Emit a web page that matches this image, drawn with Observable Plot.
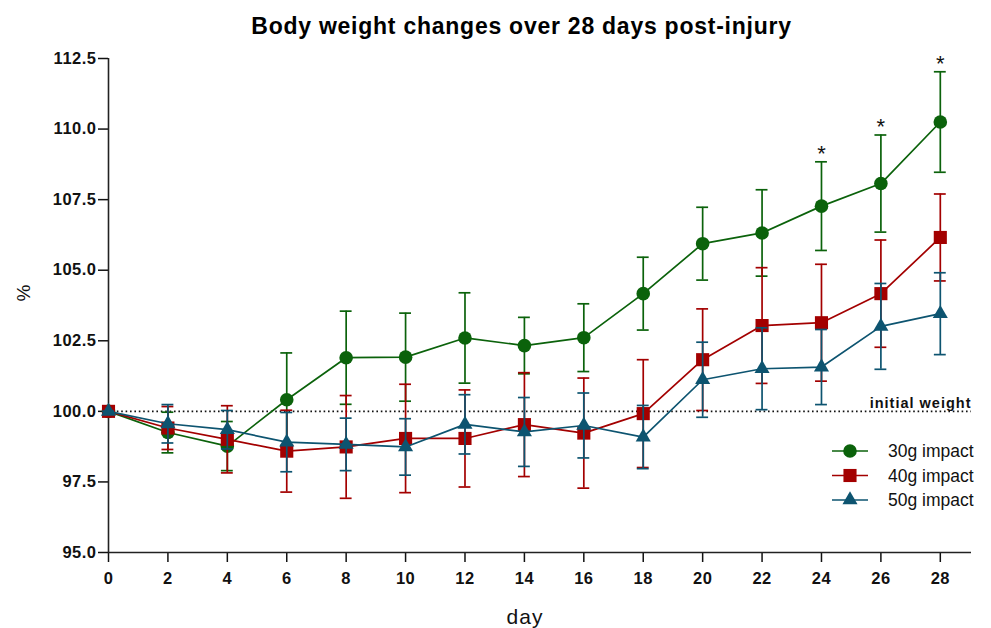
<!DOCTYPE html>
<html>
<head>
<meta charset="utf-8">
<script src="https://cdn.jsdelivr.net/npm/d3@7"></script>
<script src="https://cdn.jsdelivr.net/npm/@observablehq/plot@0.6"></script>
<style>
  html, body { margin: 0; padding: 0; background: #fff; }
  #wrap { position: relative; width: 991px; height: 628px; font-family: "Liberation Sans", Arial, sans-serif; }
  #title { position: absolute; left: 0; top: 0; width: 991px; height: 48px; text-align: center;
           font-size: 23px; font-weight: bold; letter-spacing: 0.75px; line-height: 48px; color: #000;
           padding-left: 52px; box-sizing: border-box; padding-top: 2px; }
  #chart { position: absolute; left: 0; top: 48px; }
  #legend { position: absolute; left: 826px; top: 438px; }
</style>
</head>
<body>
<div id="wrap">
  <div id="title">Body weight changes over 28 days post-injury</div>
  <div id="chart"></div>
  <div id="legend"></div>
</div>
<script>
// ---- data ----
const days = [0, 2, 4, 6, 8, 10, 12, 14, 16, 18, 20, 22, 24, 26, 28];
const groups = ["30g impact", "40g impact", "50g impact"];
const mean30 = [100, 99.25, 98.77, 100.41, 101.90, 101.92, 102.60, 102.33, 102.61, 104.17, 105.94, 106.32, 107.27, 108.07, 110.25];
const sem30  = [0, 0.72, 0.87, 1.66, 1.65, 1.56, 1.60, 1.00, 1.20, 1.29, 1.29, 1.53, 1.57, 1.72, 1.78];
const mean40 = [100, 99.41, 99.01, 98.59, 98.74, 99.04, 99.04, 99.53, 99.23, 99.92, 101.83, 103.04, 103.14, 104.17, 106.16];
const sem40  = [0, 0.76, 1.19, 1.45, 1.82, 1.92, 1.72, 1.84, 1.95, 1.91, 1.80, 2.05, 2.07, 1.90, 1.54];
const mean50 = [100, 99.56, 99.35, 98.91, 98.83, 98.74, 99.54, 99.27, 99.50, 99.09, 101.12, 101.51, 101.57, 103.01, 103.46];
const sem50  = [0, 0.68, 0.68, 1.05, 0.93, 1.00, 1.05, 1.22, 1.15, 1.12, 1.33, 1.45, 1.33, 1.52, 1.45];
const sigDays = [24, 26, 28];          // significance asterisks on the 30g series
const yTicks = [95, 97.5, 100, 102.5, 105, 107.5, 110, 112.5];
const baseline = 100;
const colors = ["#0b620b", "#a30000", "#0d5470"];
const symbols = ["circle", "square", "triangle"];
const radii = [6.8, 7.4, 5.6];

const series = [mean30, mean40, mean50];
const sems = [sem30, sem40, sem50];
const data = groups.map((g, k) => days.map((d, i) => ({day: d, group: g, mean: series[k][i], sem: sems[k][i]})));
const sigRows = data[0].filter(r => sigDays.includes(r.day));

const capHalf = 0.2;
const seriesMarks = data.flatMap((rows, k) => [
  Plot.ruleX(rows, {x: "day", y1: d => d.mean - d.sem, y2: d => d.mean + d.sem, stroke: colors[k], strokeWidth: 1.7}),
  Plot.ruleY(rows, {y: d => d.mean + d.sem, x1: d => d.day - capHalf, x2: d => d.day + capHalf, stroke: colors[k], strokeWidth: 1.7}),
  Plot.ruleY(rows, {y: d => d.mean - d.sem, x1: d => d.day - capHalf, x2: d => d.day + capHalf, stroke: colors[k], strokeWidth: 1.7}),
  Plot.line(rows, {x: "day", y: "mean", stroke: colors[k], strokeWidth: 1.7}),
  Plot.dot(rows, {x: "day", y: "mean", symbol: symbols[k], r: radii[k], fill: colors[k], stroke: "none"})
]);

const chart = Plot.plot({
  width: 991,
  height: 580,
  marginLeft: 108,
  marginRight: 20,
  marginTop: 10,
  marginBottom: 76,
  x: {domain: [0, 29.05]},
  y: {domain: [95, 112.5]},
  style: {fontFamily: "'Liberation Sans', Arial, sans-serif", background: "white", color: "#111", overflow: "visible"},
  marks: [
    Plot.ruleY([baseline], {stroke: "#111", strokeWidth: 1.6, strokeDasharray: "1.6,2.8"}),
    Plot.axisY({ticks: yTicks, tickFormat: d3.format(".1f"), tickSize: 10, tickPadding: 2, label: null,
                fontSize: 17, fontWeight: "bold", strokeWidth: 1.5}),
    Plot.axisX({ticks: days, tickFormat: d3.format("d"), tickSize: 10, tickPadding: 10, label: null,
                fontSize: 17, fontWeight: "bold", strokeWidth: 1.5}),
    Plot.ruleX([0], {stroke: "#222", strokeWidth: 1.6}),
    Plot.ruleY([95], {stroke: "#222", strokeWidth: 1.6}),
    Plot.text(["initial weight"], {x: () => 29.05, y: () => baseline, textAnchor: "end", lineAnchor: "bottom", dy: -3,
                fontSize: 14.5, fontWeight: "bold", fill: "#111"}),
    ...seriesMarks,
    Plot.text(sigRows, {x: "day", y: d => d.mean + d.sem, text: () => "*", lineAnchor: "bottom", dy: -1,
                fontSize: 22, fill: "#111"}),
    Plot.text(["day"], {frameAnchor: "bottom", dx: -15, dy: 71, lineAnchor: "bottom", fontSize: 21, fill: "#111"}),
    Plot.text(["%"], {frameAnchor: "left", dx: -85, dy: -4, rotate: -90, fontSize: 19, fill: "#111"})
  ]
});
document.getElementById("chart").appendChild(chart);

// tick labels: bold, slightly larger and wider, like the reference rendering
chart.querySelectorAll('g[aria-label="y-axis tick label"], g[aria-label="x-axis tick label"]').forEach(g => {
  g.style.fontSize = "16.5px";
  g.style.fontWeight = "bold";
  g.querySelectorAll("text").forEach(t => { t.style.letterSpacing = "0.5px"; });
});
chart.querySelectorAll('g[aria-label="text"] text').forEach(t => {
  if (t.textContent === "initial weight" || t.textContent === "day") t.style.letterSpacing = "1px";
});

// ---- legend ----
const lg = d3.select("#legend").append("svg").attr("width", 165).attr("height", 80)
  .style("font-family", "'Liberation Sans', Arial, sans-serif");
groups.forEach((g, k) => {
  const row = lg.append("g").attr("transform", `translate(0, ${13 + k * 24.5})`);
  row.append("line").attr("x1", 6).attr("x2", 42).attr("y1", 0).attr("y2", 0)
    .attr("stroke", colors[k]).attr("stroke-width", 1.7);
  row.append("path").attr("transform", "translate(24,0)")
    .attr("d", d3.symbol(k === 0 ? d3.symbolCircle : k === 1 ? d3.symbolSquare : d3.symbolTriangle, Math.PI * radii[k] * radii[k])())
    .attr("fill", colors[k]);
  row.append("text").attr("x", 62).attr("y", 0).attr("dy", "0.36em")
    .attr("font-size", 17.5).attr("fill", "#111").text(g);
});
</script>
</body>
</html>
